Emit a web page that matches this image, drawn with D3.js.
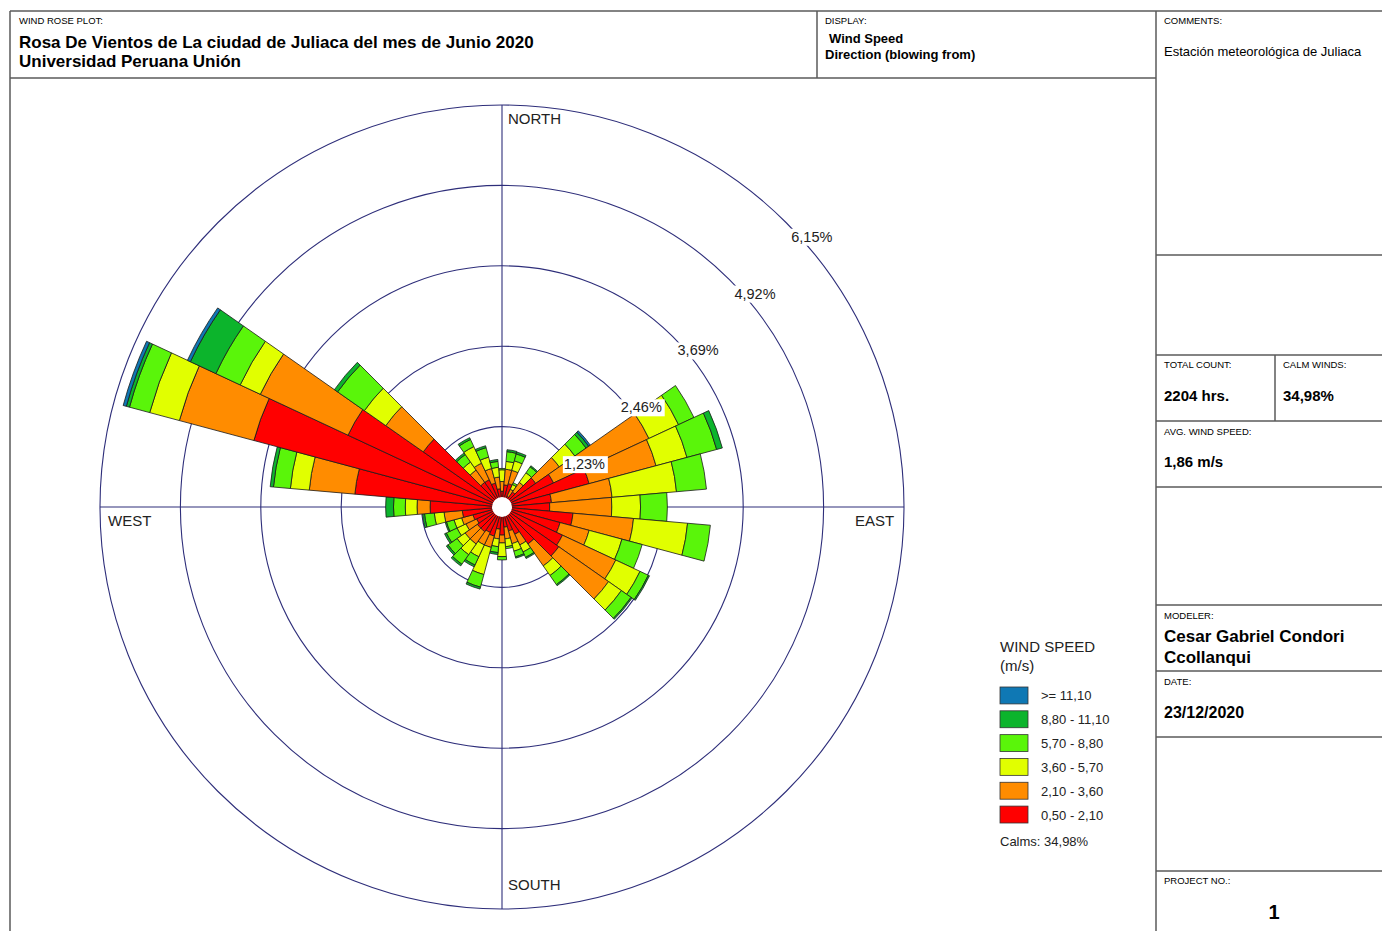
<!DOCTYPE html>
<html>
<head>
<meta charset="utf-8">
<script src="https://cdn.jsdelivr.net/npm/d3@7"></script>
<style>
  body { margin: 0; background: #fff; }
  svg { display: block; font-family: "Liberation Sans", Arial, sans-serif; }
</style>
</head>
<body>
<svg id="chart" width="1382" height="931"></svg>
<script>
// Direction sectors (degrees, blowing from), 10° wide
const directions = d3.range(0, 360, 10);

// Frequency (%) of each speed class per direction sector
const freqClass1 = [0.24,0.34,0.37,0.18,0.28,0.63,0.87,1.38,0.76,0.73,1.09,0.92,1.02,1.06,0.69,0.46,0.38,0.31,0.43,0.34,0.46,0.43,0.46,0.46,0.43,0.46,0.61,1.10,2.26,3.93,2.60,1.47,0.46,0.46,0.38,0.28];
const freqClass2 = [0.15,0.24,0.21,0.12,0.18,0.44,1.61,1.06,0.93,0.95,0.93,0.46,0.90,0.93,0.41,0.18,0.20,0.18,0.12,0.15,0.18,0.21,0.23,0.23,0.18,0.18,0.28,0.20,0.70,1.18,1.48,0.70,0.23,0.28,0.23,0.18];
const freqClass3 = [0.18,0.12,0.15,0.08,0.18,0.29,0.50,0.49,0.99,0.44,0.83,0.52,0.41,0.24,0.18,0.12,0.12,0.12,0.21,0.12,0.43,0.20,0.20,0.15,0.15,0.12,0.15,0.18,0.29,0.47,0.34,0.40,0.15,0.28,0.18,0.15];
const freqClass4 = [0.02,0.15,0.11,0.03,0.11,0.21,0.26,0.47,0.46,0.41,0.35,0.32,0.14,0.18,0.17,0.09,0.09,0.03,0.05,0.09,0.20,0.14,0.18,0.17,0.18,0.12,0.15,0.18,0.26,0.32,0.41,0.50,0.14,0.12,0.15,0.09];
const freqClass5 = [0.00,0.03,0.03,0.00,0.02,0.05,0.00,0.09,0.00,0.00,0.00,0.00,0.02,0.02,0.02,0.02,0.02,0.00,0.00,0.03,0.03,0.03,0.03,0.03,0.03,0.02,0.03,0.12,0.05,0.05,0.43,0.06,0.03,0.03,0.03,0.03];
const freqClass6 = [0,0,0,0,0,0.03,0,0,0,0,0,0,0,0,0,0,0,0,0,0,0,0,0,0,0,0,0,0,0,0.05,0.05,0,0,0,0,0];

const speedLabels = ["0,50 - 2,10", "2,10 - 3,60", "3,60 - 5,70", "5,70 - 8,80", "8,80 - 11,10", ">= 11,10"];
const speedColors = ["#ff0000", "#ff8c00", "#e1ff00", "#5af50a", "#0cb42c", "#0f78b4"];

const ringValues = [1.23, 2.46, 3.69, 4.92, 6.15];
const ringLabels = ["1,23%", "2,46%", "3,69%", "4,92%", "6,15%"];
const compassLabels = ["NORTH", "EAST", "SOUTH", "WEST"];

const calmsText = "Calms: 34,98%";

const svg = d3.select("#chart");
const cx = 502, cy = 507, outerR = 402;

// ---------- frame / title block ----------
const frame = svg.append("g").attr("stroke", "#5a5a5a").attr("stroke-width", 1.5).attr("fill", "none");
const hl = (x1, y1, x2, y2) => frame.append("line").attr("x1", x1).attr("y1", y1).attr("x2", x2).attr("y2", y2);
hl(10, 11, 1382, 11);
hl(10, 11, 10, 931);
hl(10, 78, 1156, 78);
hl(817, 11, 817, 78);
hl(1156, 11, 1156, 931);
[255, 355, 421, 487, 605, 671, 737, 871].forEach(y => hl(1156, y, 1382, y));
hl(1275, 355, 1275, 421);

const txt = (x, y, s, size, weight, anchor) => svg.append("text")
  .attr("x", x).attr("y", y).attr("font-size", size)
  .attr("font-weight", weight || "normal")
  .attr("text-anchor", anchor || "start")
  .attr("fill", "#000").text(s);

txt(19, 24, "WIND ROSE PLOT:", 9.5);
txt(19, 48, "Rosa De Vientos de La ciudad de Juliaca del mes de Junio 2020", 17, "bold");
txt(19, 67, "Universidad Peruana Unión", 17, "bold");
txt(825, 24, "DISPLAY:", 9.5);
txt(829, 43, "Wind Speed", 13, "bold");
txt(825, 59, "Direction (blowing from)", 13, "bold");
txt(1164, 24, "COMMENTS:", 9.5);
txt(1164, 56, "Estación meteorológica de Juliaca", 13);
txt(1164, 368, "TOTAL COUNT:", 9.5);
txt(1283, 368, "CALM WINDS:", 9.5);
txt(1164, 401, "2204 hrs.", 15, "bold");
txt(1283, 401, "34,98%", 15, "bold");
txt(1164, 435, "AVG. WIND SPEED:", 9.5);
txt(1164, 467, "1,86 m/s", 15, "bold");
txt(1164, 619, "MODELER:", 9.5);
txt(1164, 642, "Cesar Gabriel Condori", 17, "bold");
txt(1164, 663, "Ccollanqui", 17, "bold");
txt(1164, 685, "DATE:", 9.5);
txt(1164, 718, "23/12/2020", 16, "bold");
txt(1164, 884, "PROJECT NO.:", 9.5);
txt(1274, 919, "1", 20, "bold", "middle");

// ---------- wind rose ----------
const r = d3.scaleLinear().domain([0, 6.15]).range([0, outerR]);
const rose = svg.append("g").attr("transform", `translate(${cx},${cy})`);

const gridColor = "#2e2e7a";
rose.append("g").selectAll("circle").data(ringValues).join("circle")
  .attr("r", d => r(d)).attr("fill", "none")
  .attr("stroke", gridColor).attr("stroke-width", 1.1);
rose.append("line").attr("x1", 0).attr("x2", 0).attr("y1", -outerR).attr("y2", outerR)
  .attr("stroke", gridColor).attr("stroke-width", 1.1);
rose.append("line").attr("y1", 0).attr("y2", 0).attr("x1", -outerR).attr("x2", outerR)
  .attr("stroke", gridColor).attr("stroke-width", 1.1);

// stack the classes outward for each direction
const classes = [freqClass1, freqClass2, freqClass3, freqClass4, freqClass5, freqClass6];
const segments = [];
directions.forEach((dir, i) => {
  let acc = 0;
  classes.forEach((arr, k) => {
    const v = arr[i];
    if (v > 0) segments.push({ dir, k, r0: acc, r1: acc + v });
    acc += v;
  });
});

const half = 5 * Math.PI / 180;
const arc = d3.arc()
  .innerRadius(d => r(d.r0))
  .outerRadius(d => r(d.r1))
  .startAngle(d => d.dir * Math.PI / 180 - half)
  .endAngle(d => d.dir * Math.PI / 180 + half);

rose.append("g").selectAll("path").data(segments).join("path")
  .attr("d", arc)
  .attr("fill", d => speedColors[d.k])
  .attr("stroke", "#1a1a1a").attr("stroke-width", 0.8).attr("stroke-linejoin", "round");

// calm circle
rose.append("circle").attr("r", 10).attr("fill", "#fff");

// ring labels along the north-east diagonal
const a45 = Math.SQRT1_2;
const ringG = rose.append("g").selectAll("g").data(ringValues).join("g")
  .attr("transform", d => `translate(${r(d) * a45 + 5},${-r(d) * a45 + 6})`);
ringG.append("rect").attr("x", -1).attr("y", 0).attr("width", 45).attr("height", 17).attr("fill", "#fff");
ringG.append("text").attr("x", 0).attr("y", 13).attr("font-size", 14.5).attr("fill", "#222")
  .text((d, i) => ringLabels[i]);

// compass labels
const comp = [
  { t: compassLabels[0], x: 6, y: -383 },
  { t: compassLabels[1], x: 353, y: 19 },
  { t: compassLabels[2], x: 6, y: 383 },
  { t: compassLabels[3], x: -394, y: 19 }
];
rose.append("g").selectAll("text").data(comp).join("text")
  .attr("x", d => d.x).attr("y", d => d.y).attr("font-size", 15).attr("fill", "#222")
  .text(d => d.t);

// ---------- legend ----------
const leg = svg.append("g").attr("transform", "translate(1000,0)");
leg.append("text").attr("x", 0).attr("y", 652).attr("font-size", 15).attr("fill", "#222").text("WIND SPEED");
leg.append("text").attr("x", 0).attr("y", 671).attr("font-size", 15).attr("fill", "#222").text("(m/s)");
const order = [5, 4, 3, 2, 1, 0];
const ly = d3.scaleBand().domain(order).range([687, 823]).paddingInner(0.29);
leg.selectAll("rect.sw").data(order).join("rect").attr("class", "sw")
  .attr("x", 0).attr("y", d => ly(d)).attr("width", 28).attr("height", ly.bandwidth())
  .attr("fill", d => speedColors[d]).attr("stroke", "#333").attr("stroke-width", 0.8);
leg.selectAll("text.lb").data(order).join("text").attr("class", "lb")
  .attr("x", 41).attr("y", d => ly(d) + ly.bandwidth() / 2 + 5).attr("font-size", 13).attr("fill", "#222")
  .text(d => speedLabels[d]);
leg.append("text").attr("x", 0).attr("y", 846).attr("font-size", 13).attr("fill", "#222").text(calmsText);
</script>
</body>
</html>
